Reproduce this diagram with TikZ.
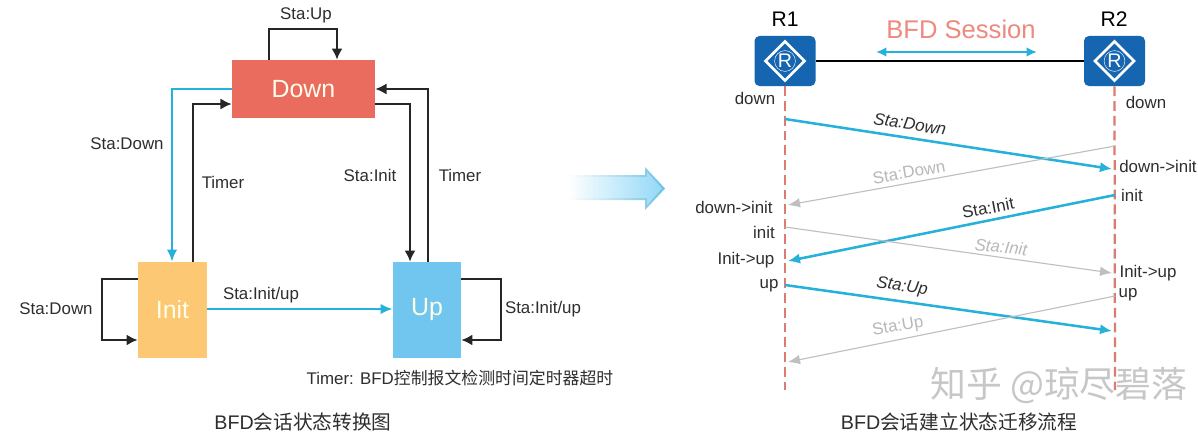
\documentclass[tikz,border=0pt]{standalone}
\usepackage{fontspec}
\usepackage{xcolor}
\usepackage{tikz}
\usetikzlibrary{arrows.meta,shapes.geometric}
\setmainfont{Liberation Sans}
\newfontfamily\cjk{Noto Sans CJK SC}
\definecolor{downred}{HTML}{EA6C5E}
\definecolor{initorange}{HTML}{FDC873}
\definecolor{upblue}{HTML}{70C6EE}
\definecolor{flowblue}{HTML}{25B1DA}
\definecolor{routerblue}{HTML}{1565B0}
\definecolor{lifered}{HTML}{DC7B72}
\definecolor{inkdark}{HTML}{2E2E2E}
\definecolor{fwdedge}{HTML}{6DBFE0}
\definecolor{fwdedgemid}{HTML}{D2EEF8}
\definecolor{fwdfill}{HTML}{93D9F7}
\definecolor{fwdfillmid}{HTML}{EAF8FD}
\begin{document}
\begin{tikzpicture}[
  x=0.025cm, y=-0.025cm,
  state/.style={inner sep=0pt, text=white!92!yellow, font=\fontsize{17.7}{20}\selectfont},
  txt/.style={inner sep=0pt, text=inkdark, font=\fontsize{12}{14}\selectfont},
  caption/.style={inner sep=0pt, text=inkdark, font=\fontsize{14}{16}\selectfont},
  faint/.style={txt, text=black!28},
  slant/.style={font=\fontsize{12}{14}\selectfont\itshape},
  router/.style={draw=none, fill=routerblue, rounded corners=3.5pt, minimum width=1.525cm, minimum height=1.25cm, inner sep=0pt},
  rmark/.style={diamond, draw=white, line width=1.8pt, minimum width=1cm, minimum height=1cm, inner sep=0pt, aspect=1,
    text=white, font=\fontsize{14}{16}\selectfont},
  rring/.style={circle, draw=white, line width=0.3pt, minimum size=0.52cm, inner sep=0pt},
  flow/.style={-{Latex[length=2.8mm,width=2.8mm]}, line width=1.6pt, draw=black!85},
  blueflow/.style={-{Latex[length=3mm,width=2.6mm]}, line width=1.8pt, draw=flowblue},
  greyflow/.style={-{Latex[length=3mm,width=2.4mm]}, line width=0.8pt, draw=black!25},
  life/.style={dash pattern=on 7pt off 3.5pt, line width=1.6pt, draw=lifered}
]
\useasboundingbox (0,0) rectangle (1198,436);
\fill[white] (0,0) rectangle (1198,436);

% state diagram
\node[state, fill=downred, minimum width=3.575cm, minimum height=1.45cm] (down) at (303.5,89) {Down};
\node[state, fill=initorange, minimum width=1.725cm, minimum height=2.4cm] (init) at (172.5,310) {Init};
\node[state, fill=upblue, minimum width=1.7cm, minimum height=2.4cm] (up) at (427,310) {Up};

\node[txt] (lblloop) at (306,15) {Sta:Up};
\node[txt] (lbldown) at (127,144) {Sta:Down};
\node[txt] (lbltimera) at (223,182) {Timer};
\node[txt] (lblinit) at (370,175) {Sta:Init};
\node[txt] (lbltimerb) at (460,175) {Timer};
\node[txt] (lblinitloop) at (56,309) {Sta:Down};
\node[txt] (lblinitup) at (261,295) {Sta:Init/up};
\node[txt] (lbluploop) at (543,309) {Sta:Init/up};
\node[txt] (lblfoot) at (460,378) {Timer: BFD{\cjk 控制报文检测时间定时器超时}};
\node[caption] (capl) at (303,422) {BFD{\cjk 会话状态转换图}};

\draw[flow] (down.north -| 269,0) -- (269,29) -- (337,29) -- (down.north -| 337,0);
\draw[blueflow] (down.west |- 0,89) -- (172,89) -- (init.north -| 172,0);
\draw[flow] (init.north -| 193,0) -- (193,104) -- (down.west |- 0,104);
\draw[flow] (down.east |- 0,104) -- (410,104) -- (up.north -| 410,0);
\draw[flow] (up.north -| 428,0) -- (428,89) -- (down.east |- 0,89);
\draw[flow] (init.west |- 0,279) -- (102,279) -- (102,340) -- (init.west |- 0,340);
\draw[flow] (up.east |- 0,279) -- (501,279) -- (501,340) -- (up.east |- 0,340);
\draw[blueflow] (init.east |- 0,309) -- (up.west |- 0,309);

% big arrow
\shade[left color=white, middle color=fwdedgemid, right color=fwdedge]
  (568,175) -- (645,175) -- (645,167) -- (665,188.5) -- (645,210) -- (645,200) -- (568,200) -- cycle;
\shade[left color=white, middle color=fwdfillmid, right color=fwdfill]
  (568,177) -- (647,177) -- (647,172) -- (662,188.5) -- (647,205) -- (647,198) -- (568,198) -- cycle;

% session
\node[router] (rone) at (785,61) {};
\node[router] (rtwo) at (1114.5,61) {};
\node[rmark] (ronemark) at (rone) {R};
\node[rmark] (rtwomark) at (rtwo) {R};
\node[rring] (ronering) at (rone) {};
\node[rring] (rtworing) at (rtwo) {};
\node[inner sep=0pt, font=\fontsize{15}{17}\selectfont] (ronename) at (785,19) {R1};
\node[inner sep=0pt, font=\fontsize{15}{17}\selectfont] (rtwoname) at (1114,19) {R2};
\node[inner sep=0pt, text=downred!80!white, font=\fontsize{18.2}{20}\selectfont] (session) at (961,29) {BFD Session};
\draw[line width=1.8pt] (rone) -- (rtwo);

\coordinate (sessl) at (876,52);
\coordinate (sessr) at (1037,52);
\draw[{Latex[length=2.6mm,width=2.4mm]}-{Latex[length=2.6mm,width=2.4mm]}, line width=1.6pt, draw=flowblue] (sessl) -- (sessr);

\coordinate (oneend) at (785,390);
\coordinate (twoend) at (1115,390);
\draw[life] (rone.south) -- (oneend);
\draw[life] (rtwo.south) -- (twoend);

\coordinate (aone) at (785,119);
\coordinate (atwo) at (1112,169);
\coordinate (btwo) at (1115,146);
\coordinate (bone) at (788,205);
\coordinate (ctwo) at (1115,195);
\coordinate (cone) at (788,261);
\coordinate (done) at (785,227);
\coordinate (dtwo) at (1112,273);
\coordinate (eone) at (785,285);
\coordinate (etwo) at (1112,331);
\coordinate (ftwo) at (1115,296);
\coordinate (fone) at (788,362);
\draw[blueflow] (aone) -- (atwo);
\draw[greyflow] (btwo) -- (bone);
\draw[blueflow] (ctwo) -- (cone);
\draw[greyflow] (done) -- (dtwo);
\draw[blueflow] (eone) -- (etwo);
\draw[greyflow] (ftwo) -- (fone);

\node[txt, slant, rotate=-9] (msga) at (910,124) {Sta:Down};
\node[faint, rotate=10] (msgb) at (909,172) {Sta:Down};
\node[txt, rotate=11] (msgc) at (988,208) {Sta:Init};
\node[faint, slant, rotate=-6] (msgd) at (1001,247) {Sta:Init};
\node[txt, slant, rotate=-9] (msge) at (902,287) {Sta:Up};
\node[faint, rotate=10] (msgf) at (898,327) {Sta:Up};

\node[txt] (sa) at (755,98) {down};
\node[txt] (sb) at (734,207) {down->init};
\node[txt] (sc) at (764,232) {init};
\node[txt] (sd) at (746,260) {Init->up};
\node[txt] (se) at (769,286) {up};
\node[txt] (ta) at (1146,102) {down};
\node[txt] (tb) at (1158,166) {down->init};
\node[txt] (tc) at (1132,195) {init};
\node[txt] (td) at (1148,273) {Init->up};
\node[txt] (te) at (1128,295) {up};

\node[caption] (capr) at (959,422) {BFD{\cjk 会话建立状态迁移流程}};
\node[inner sep=0pt, text=black!22, font=\fontsize{25.5}{28}\selectfont\cjk] (mark) at (1059,385) {知乎 @琼尽碧落};
\end{tikzpicture}
\end{document}
